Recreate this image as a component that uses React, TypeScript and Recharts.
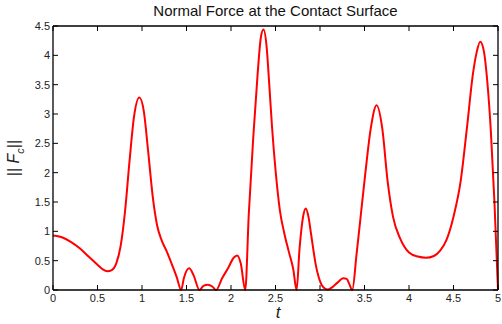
import { LineChart, Line, XAxis, YAxis } from 'recharts'

// time samples (s) and |Fc|
const tValues = [
  0, 0.1, 0.2, 0.3, 0.4, 0.5, 0.56, 0.61, 0.66, 0.71, 0.76, 0.81, 0.86, 0.91, 0.97, 1.02, 1.07, 1.12,
  1.17, 1.22, 1.28, 1.34, 1.39, 1.44, 1.47, 1.53, 1.58, 1.646, 1.69, 1.74, 1.79, 1.833, 1.9, 1.97,
  2.03, 2.07, 2.11, 2.16, 2.2, 2.25, 2.3, 2.335, 2.365, 2.4, 2.43, 2.46, 2.5, 2.55, 2.6, 2.65, 2.7,
  2.737, 2.77, 2.81, 2.84, 2.87, 2.9, 2.95, 3.0, 3.05, 3.09, 3.14, 3.2, 3.26, 3.3, 3.33, 3.363, 3.41,
  3.46, 3.51, 3.57, 3.636, 3.7, 3.76, 3.82, 3.9, 4.0, 4.1, 4.19, 4.28, 4.35, 4.42, 4.5, 4.58, 4.65,
  4.72, 4.76, 4.8, 4.84, 4.88, 4.92, 4.96, 5.0,
]
const fcValues = [
  0.93, 0.9, 0.82, 0.71, 0.57, 0.43, 0.35, 0.32, 0.34, 0.45, 0.75, 1.35, 2.2, 2.95, 3.28, 3.05, 2.35, 1.6,
  1.1, 0.85, 0.65, 0.42, 0.22, 0, 0.2, 0.37, 0.25, 0, 0.07, 0.09, 0.06, 0, 0.2, 0.38,
  0.55, 0.59, 0.45, 0, 1.3, 2.6, 3.7, 4.3, 4.44, 4.15, 3.5, 2.8, 2.05, 1.35, 0.96, 0.65, 0.35,
  0, 0.7, 1.25, 1.39, 1.25, 0.95, 0.45, 0.15, 0.03, 0.01, 0.05, 0.13, 0.2, 0.19, 0.1, 0, 0.6,
  1.3, 2.0, 2.75, 3.15, 2.75, 1.85, 1.25, 0.88, 0.64, 0.57, 0.55, 0.58, 0.67, 0.85, 1.25, 1.85, 2.75,
  3.7, 4.05, 4.23, 4.08, 3.55, 2.7, 1.5, 0,
]
const xTicks = [0, 0.5, 1, 1.5, 2, 2.5, 3, 3.5, 4, 4.5, 5]
const yTicks = [0, 0.5, 1, 1.5, 2, 2.5, 3, 3.5, 4, 4.5]

const data = tValues.map((t, i) => ({ t, fc: fcValues[i] }))

const font = 'Arial, "Liberation Sans", sans-serif'
const tickStyle = { fill: '#222', fontSize: 11, fontFamily: font }
const frameLine = { stroke: '#000', strokeWidth: 1.3 }
const blank = () => ''

export default function App() {
  return (
    <div style={{ position: 'absolute', left: 0, top: 0, width: 502, height: 324, background: '#fff' }}>
      <LineChart width={502} height={324} data={data} margin={{ top: 25, right: 3, bottom: 0, left: 0 }}>
        <XAxis
          xAxisId="bottom"
          dataKey="t"
          type="number"
          domain={[0, 5]}
          ticks={xTicks}
          height={34}
          tick={tickStyle}
          tickSize={-5}
          tickMargin={9}
          axisLine={frameLine}
          tickLine={{ stroke: '#000' }}
          interval={0}
        />
        <XAxis
          xAxisId="top"
          orientation="top"
          dataKey="t"
          type="number"
          domain={[0, 5]}
          ticks={xTicks}
          height={1}
          tickFormatter={blank}
          tickSize={-5}
          axisLine={frameLine}
          tickLine={{ stroke: '#000' }}
          interval={0}
        />
        <YAxis
          yAxisId="left"
          type="number"
          domain={[0, 4.5]}
          ticks={yTicks}
          width={53}
          tick={tickStyle}
          tickSize={-5}
          tickMargin={8}
          axisLine={frameLine}
          tickLine={{ stroke: '#000' }}
          interval={0}
        />
        <YAxis
          yAxisId="right"
          orientation="right"
          type="number"
          domain={[0, 4.5]}
          ticks={yTicks}
          width={1}
          tickFormatter={blank}
          tickSize={-5}
          axisLine={frameLine}
          tickLine={{ stroke: '#000' }}
          interval={0}
        />
        {/* invisible series so the top/right frame axes get drawn */}
        <Line
          xAxisId="top"
          yAxisId="right"
          type="monotone"
          dataKey="fc"
          stroke="none"
          dot={false}
          activeDot={false}
          isAnimationActive={false}
        />
        <Line
          xAxisId="bottom"
          yAxisId="left"
          type="monotone"
          dataKey="fc"
          stroke="#ff0000"
          strokeWidth={2}
          dot={false}
          isAnimationActive={false}
        />
      </LineChart>
      <div
        style={{
          position: 'absolute', left: 53, width: 445, top: 2, textAlign: 'center',
          fontFamily: font, fontSize: 15, color: '#111', lineHeight: '18px',
        }}
      >
        Normal Force at the Contact Surface
      </div>
      <div
        style={{
          position: 'absolute', left: 17, top: 158, transform: 'translate(-50%, -50%) rotate(-90deg)',
          fontFamily: font, fontSize: 16, color: '#222', whiteSpace: 'nowrap', lineHeight: '20px',
        }}
      >
        || <i>F</i><sub style={{ fontSize: 11 }}><i>c</i></sub>||
      </div>
      <div
        style={{
          position: 'absolute', left: 278, top: 313, transform: 'translate(-50%, -50%)',
          fontFamily: font, fontSize: 17, fontStyle: 'italic', color: '#222', lineHeight: '20px',
        }}
      >
        t
      </div>
    </div>
  )
}
